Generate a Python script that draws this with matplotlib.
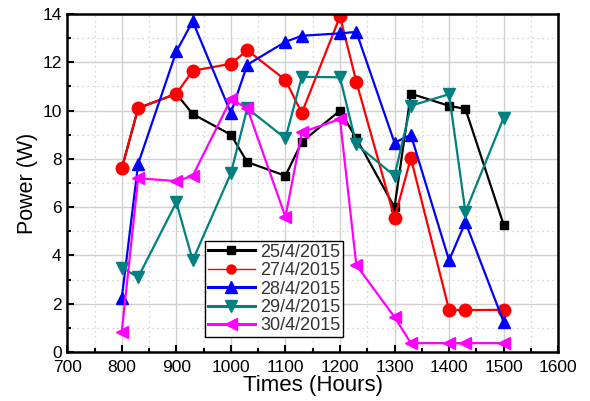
import matplotlib
matplotlib.use("Agg")
import matplotlib.pyplot as plt
from matplotlib.ticker import MultipleLocator

plt.rcParams['font.family'] = ['Liberation Sans', 'DejaVu Sans']

times = [800, 830, 900, 930, 1000, 1030, 1100, 1130, 1200, 1230, 1300, 1330, 1400, 1430, 1500]
labels = ["25/4/2015", "27/4/2015", "28/4/2015", "29/4/2015", "30/4/2015"]
p25 = [7.6, 10.1, 10.7, 9.86, 9.0, 7.87, 7.3, 8.7, 10.0, 8.85, 6.0, 10.7, 10.2, 10.07, 5.28]
p27 = [7.62, 10.1, 10.7, 11.65, 11.94, 12.5, 11.27, 9.9, 13.9, 11.2, 5.55, 8.03, 1.75, 1.74, 1.75]
p28 = [2.24, 7.8, 12.45, 13.7, 9.9, 11.9, 12.85, 13.1, 13.2, 13.26, 8.67, 9.0, 3.8, 5.38, 1.25]
p29 = [3.5, 3.1, 6.2, 3.8, 7.4, 10.1, 8.85, 11.4, 11.38, 8.6, 7.3, 10.2, 10.68, 5.8, 9.7]
p30 = [0.85, 7.2, 7.08, 7.3, 10.47, 10.1, 5.6, 9.1, 9.65, 3.6, 1.45, 0.37, 0.37, 0.37, 0.37]

series = [p25, p27, p28, p29, p30]
colors = ['#000000', '#FF0000', '#0000FF', '#008080', '#FF00FF']
markers = ['s', 'o', '^', 'v', '<']
msizes = [6.3, 9, 8.5, 8.5, 8.5]

fig = plt.figure(figsize=(5.90, 4.01), dpi=100)
ax = fig.add_axes([0.114, 0.122, 0.832, 0.843])

for vals, c, m, ms, lab in zip(series, colors, markers, msizes, labels):
    ax.plot(times, vals, color=c, marker=m, markersize=ms, linewidth=1.6, label=lab)

ax.set_xlim(700, 1600)
ax.set_ylim(0, 14)
ax.xaxis.set_major_locator(MultipleLocator(100))
ax.xaxis.set_minor_locator(MultipleLocator(50))
ax.yaxis.set_major_locator(MultipleLocator(2))
ax.yaxis.set_minor_locator(MultipleLocator(1))
ax.grid(which='major', color='#d0d0d0', linestyle='-', linewidth=1.0)
ax.grid(which='minor', color='#c8c8c8', linestyle=(0, (1, 3)), linewidth=0.9)
ax.set_axisbelow(True)
ax.tick_params(which='both', direction='in', top=False, right=False, width=1.5,
               labelsize=12.5, colors='black')
ax.tick_params(axis='x', which='major', pad=6)
ax.tick_params(axis='y', which='major', pad=4)
ax.tick_params(which='major', length=5)
ax.tick_params(which='minor', length=3)
for s in ax.spines.values():
    s.set_linewidth(1.8)

ax.set_xlabel("Times (Hours)", fontsize=16, labelpad=0)
ax.set_ylabel("Power (W)", fontsize=15.5, labelpad=3)

leg = ax.legend(loc='lower left', bbox_to_anchor=(0.281, 0.044), fontsize=13, frameon=True,
                fancybox=False, framealpha=1, edgecolor='black', borderpad=0.15,
                labelspacing=0.08, handlelength=2.6, handletextpad=0.3, borderaxespad=0)
leg.get_frame().set_linewidth(1.0)
for t in leg.get_texts():
    t.set_color('#333333')
for i, h in enumerate(leg.legend_handles):
    if i == 1:
        h.set_linewidth(1.0)
        h.set_markersize(6.5)
    else:
        h.set_linewidth(2.2)

fig.savefig("out.png", dpi=100)
